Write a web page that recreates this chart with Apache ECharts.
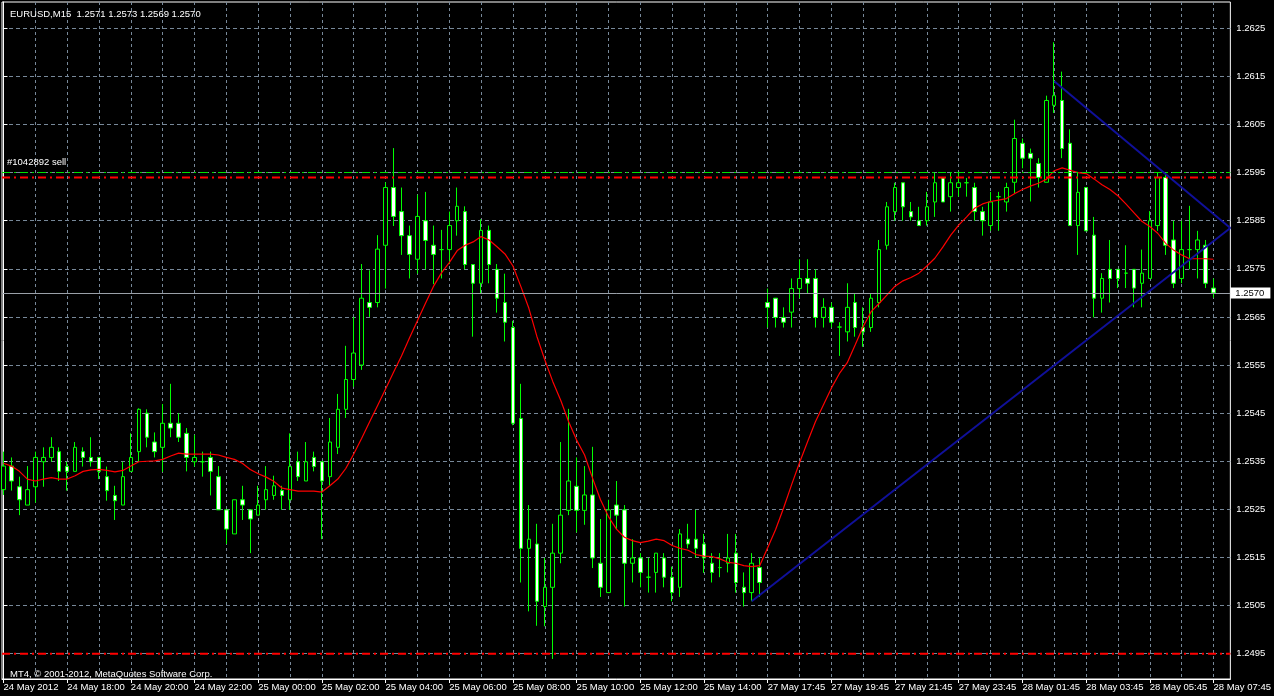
<!DOCTYPE html>
<html><head><meta charset="utf-8">
<script src="https://cdn.jsdelivr.net/npm/echarts@6/dist/echarts.min.js"></script>
<style>html,body{margin:0;padding:0;background:#000;}#chart{width:1274px;height:696px;}</style>
</head><body><div id="chart"></div>
<script>
const symbol = 'EURUSD', timeframe = 'M15';
const copyright = 'MT4, \u00a9 2001-2012, MetaQuotes Software Corp.';
const orderText = '#1042892 sell';
const orderLevel = 1.2595;
const redLevels = [1.2594, 1.2495];

const tickLabels = ["24 May 2012","24 May 18:00","24 May 20:00","24 May 22:00","25 May 00:00","25 May 02:00","25 May 04:00","25 May 06:00","25 May 08:00","25 May 10:00","25 May 12:00","25 May 14:00","27 May 17:45","27 May 19:45","27 May 21:45","27 May 23:45","28 May 01:45","28 May 03:45","28 May 05:45","28 May 07:45"];
const priceTicks = [1.2495,1.2505,1.2515,1.2525,1.2535,1.2545,1.2555,1.2565,1.2575,1.2585,1.2595,1.2605,1.2615,1.2625];

const opens = [1.25291,1.25340,1.25297,1.25259,1.25297,1.25349,1.25358,1.25370,1.25339,1.25329,
1.25370,1.25358,1.25358,1.25318,1.25279,1.25259,1.25329,1.25370,1.25450,1.25390,
1.25379,1.25429,1.25429,1.25408,1.25349,1.25349,1.25358,1.25318,1.25249,1.25199,
1.25270,1.25249,1.25238,1.25270,1.25279,1.25289,1.25270,1.25349,1.25309,1.25358,
1.25349,1.25318,1.25379,1.25458,1.25520,1.25550,1.25680,1.25680,1.25799,1.25919,
1.25869,1.25819,1.25770,1.25850,1.25799,1.25790,1.25790,1.25850,1.25869,1.25759,
1.25720,1.25830,1.25749,1.25680,1.25628,1.25439,1.25169,1.25178,1.25048,1.25088,
1.25159,1.25248,1.25298,1.25248,1.25280,1.25138,1.25077,1.25259,1.25249,1.25138,
1.25149,1.25109,1.25119,1.25149,1.25109,1.25088,1.25188,1.25188,1.25178,1.25138,
1.25129,1.25138,1.25159,1.25088,1.25077,1.25129,1.25680,1.25689,1.25649,1.25660,
1.25709,1.25730,1.25730,1.25649,1.25670,1.25629,1.25619,1.25680,1.25628,1.25628,
1.25680,1.25799,1.25869,1.25929,1.25869,1.25850,1.25850,1.25889,1.25939,1.25900,
1.25919,1.25929,1.25919,1.25869,1.25840,1.25900,1.25889,1.25930,1.26011,1.25990,
1.25969,1.25930,1.26090,1.26100,1.26011,1.25840,1.25919,1.25820,1.25689,1.25749,
1.25749,1.25741,1.25749,1.25720,1.25730,1.25840,1.25940,1.25810,1.25730,1.25790,
1.25790,1.25799,1.25710];
const highs = [1.25370,1.25358,1.25318,1.25340,1.25370,1.25379,1.25400,1.25379,1.25349,1.25390,
1.25379,1.25400,1.25358,1.25339,1.25299,1.25349,1.25408,1.25460,1.25458,1.25410,
1.25469,1.25511,1.25450,1.25419,1.25405,1.25370,1.25370,1.25340,1.25249,1.25270,
1.25299,1.25249,1.25299,1.25340,1.25320,1.25299,1.25408,1.25370,1.25390,1.25370,
1.25349,1.25440,1.25490,1.25590,1.25650,1.25760,1.25747,1.25820,1.25930,1.26001,
1.25919,1.25840,1.25904,1.25910,1.25840,1.25831,1.25869,1.25919,1.25880,1.25759,
1.25853,1.25840,1.25760,1.25740,1.25642,1.25511,1.25259,1.25220,1.25149,1.25220,
1.25390,1.25459,1.25358,1.25340,1.25380,1.25230,1.25270,1.25309,1.25259,1.25188,
1.25159,1.25149,1.25159,1.25159,1.25131,1.25209,1.25220,1.25249,1.25199,1.25159,
1.25159,1.25199,1.25199,1.25119,1.25159,1.25149,1.25709,1.25689,1.25670,1.25730,
1.25770,1.25770,1.25749,1.25689,1.25680,1.25639,1.25720,1.25699,1.25670,1.25699,
1.25810,1.25889,1.25929,1.25929,1.25889,1.25879,1.25910,1.25950,1.25939,1.25950,
1.25950,1.25939,1.25929,1.25879,1.25910,1.25910,1.25929,1.26060,1.26021,1.26000,
1.25980,1.26110,1.26221,1.26160,1.26040,1.25950,1.25919,1.25858,1.25741,1.25810,
1.25749,1.25799,1.25749,1.25790,1.25870,1.25950,1.25950,1.25850,1.25850,1.25881,
1.25829,1.25810,1.25730];
const lows = [1.25280,1.25289,1.25238,1.25259,1.25264,1.25297,1.25349,1.25309,1.25289,1.25329,
1.25339,1.25339,1.25313,1.25268,1.25228,1.25259,1.25329,1.25349,1.25379,1.25358,
1.25328,1.25400,1.25390,1.25329,1.25339,1.25318,1.25279,1.25249,1.25178,1.25199,
1.25228,1.25159,1.25238,1.25249,1.25270,1.25249,1.25249,1.25309,1.25309,1.25329,
1.25188,1.25299,1.25365,1.25440,1.25505,1.25540,1.25650,1.25670,1.25709,1.25839,
1.25779,1.25730,1.25740,1.25749,1.25718,1.25730,1.25760,1.25819,1.25749,1.25609,
1.25699,1.25720,1.25659,1.25599,1.25425,1.25098,1.25038,1.25008,1.25007,1.24939,
1.25138,1.25238,1.25202,1.25218,1.25128,1.25068,1.25077,1.25208,1.25048,1.25098,
1.25088,1.25077,1.25077,1.25088,1.25059,1.25068,1.25169,1.25149,1.25118,1.25098,
1.25109,1.25119,1.25077,1.25048,1.25059,1.25068,1.25628,1.25628,1.25628,1.25628,
1.25689,1.25699,1.25628,1.25628,1.25628,1.25569,1.25599,1.25609,1.25588,1.25619,
1.25670,1.25790,1.25850,1.25850,1.25850,1.25840,1.25840,1.25858,1.25889,1.25869,
1.25900,1.25900,1.25850,1.25819,1.25829,1.25829,1.25869,1.25907,1.25959,1.25890,
1.25919,1.25930,1.26074,1.25980,1.25840,1.25779,1.25829,1.25649,1.25659,1.25680,
1.25710,1.25710,1.25670,1.25670,1.25730,1.25829,1.25779,1.25710,1.25720,1.25749,
1.25730,1.25710,1.25690];
const closes = [1.25340,1.25309,1.25270,1.25291,1.25358,1.25358,1.25379,1.25329,1.25329,1.25379,
1.25358,1.25349,1.25329,1.25289,1.25268,1.25318,1.25358,1.25458,1.25400,1.25370,
1.25429,1.25419,1.25400,1.25358,1.25358,1.25349,1.25329,1.25249,1.25209,1.25270,
1.25259,1.25230,1.25259,1.25291,1.25299,1.25279,1.25339,1.25318,1.25349,1.25339,
1.25309,1.25390,1.25458,1.25520,1.25575,1.25689,1.25670,1.25791,1.25919,1.25859,
1.25819,1.25780,1.25859,1.25809,1.25780,1.25790,1.25840,1.25880,1.25759,1.25720,
1.25830,1.25759,1.25689,1.25639,1.25429,1.25169,1.25188,1.25059,1.25088,1.25159,
1.25238,1.25309,1.25248,1.25280,1.25149,1.25088,1.25249,1.25238,1.25138,1.25149,
1.25119,1.25109,1.25159,1.25109,1.25077,1.25199,1.25178,1.25169,1.25149,1.25119,
1.25129,1.25149,1.25098,1.25077,1.25138,1.25098,1.25670,1.25649,1.25639,1.25709,
1.25730,1.25720,1.25649,1.25670,1.25639,1.25629,1.25670,1.25628,1.25619,1.25689,
1.25790,1.25879,1.25919,1.25879,1.25858,1.25840,1.25879,1.25929,1.25889,1.25929,
1.25929,1.25929,1.25869,1.25850,1.25889,1.25900,1.25919,1.26021,1.25980,1.25980,
1.25940,1.26100,1.26110,1.26000,1.25840,1.25909,1.25829,1.25689,1.25730,1.25730,
1.25730,1.25741,1.25710,1.25741,1.25850,1.25940,1.25799,1.25720,1.25790,1.25790,
1.25810,1.25720,1.25700];
const maValues = [1.25346,1.25340,1.25329,1.25313,1.25309,1.25313,1.25316,1.25313,1.25313,1.25320,
1.25329,1.25332,1.25333,1.25331,1.25328,1.25331,1.25340,1.25349,1.25350,1.25351,
1.25354,1.25361,1.25367,1.25365,1.25365,1.25365,1.25365,1.25363,1.25358,1.25354,
1.25346,1.25333,1.25324,1.25317,1.25308,1.25294,1.25291,1.25288,1.25288,1.25288,
1.25286,1.25299,1.25313,1.25335,1.25365,1.25398,1.25432,1.25466,1.25500,1.25535,
1.25569,1.25606,1.25642,1.25678,1.25713,1.25741,1.25763,1.25788,1.25799,1.25806,
1.25817,1.25810,1.25796,1.25781,1.25756,1.25713,1.25668,1.25610,1.25561,1.25516,
1.25477,1.25432,1.25394,1.25363,1.25315,1.25270,1.25235,1.25209,1.25192,1.25185,
1.25181,1.25184,1.25188,1.25185,1.25175,1.25169,1.25165,1.25156,1.25153,1.25152,
1.25147,1.25140,1.25138,1.25133,1.25131,1.25133,1.25170,1.25208,1.25253,1.25301,
1.25347,1.25390,1.25432,1.25467,1.25502,1.25532,1.25555,1.25592,1.25630,1.25661,
1.25678,1.25696,1.25714,1.25725,1.25732,1.25741,1.25756,1.25772,1.25795,1.25820,
1.25841,1.25858,1.25876,1.25885,1.25890,1.25893,1.25896,1.25906,1.25915,1.25922,
1.25928,1.25936,1.25954,1.25960,1.25955,1.25950,1.25948,1.25937,1.25925,1.25915,
1.25902,1.25885,1.25867,1.25849,1.25838,1.25824,1.25803,1.25789,1.25779,1.25771,
1.25771,1.25771,1.25770];

// trend lines: [bar index, price]
const trendLow = [[94, 1.25059], [154.125, 1.25835]];
const trendHigh = [[132, 1.26140], [154.125, 1.25835]];

const FONT = '"Liberation Sans", Arial, sans-serif';
const FS = 9.5;
const n = opens.length;
const last = n - 1;
const candleData = opens.map((o, i) => [i, o, closes[i], lows[i], highs[i]]);
const maData = maValues.map((v, i) => [i, v]);
const bid = closes[last];
const labelBars = tickLabels.map((_, i) => i * 8);
const gridBars = [];
for (let k = 4; k <= last; k += 4) gridBars.push(k);
const xMin = -0.1875, xMax = 154.125;
const yMin = 1.248974, yMax = 1.263047;
const fmt = v => v.toFixed(4);
const dashDot = [8, 4, 2, 4];

const levelSeries = redLevels.map(lv => ({
  type: 'line', data: [[xMin, lv], [xMax, lv]], symbol: 'none', z: 4, silent: true,
  lineStyle: {color: '#ff0000', type: dashDot, width: 2}
}));

const chart = echarts.init(document.getElementById('chart'), null, {renderer: 'canvas'});
chart.setOption({
  backgroundColor: '#000',
  animation: false,
  title: [
    {text: symbol + ',' + timeframe + '  ' + fmt(opens[last]) + ' ' + fmt(highs[last]) + ' ' + fmt(lows[last]) + ' ' + fmt(closes[last]),
     left: 5, top: 4, textStyle: {color: '#fff', fontSize: FS, fontWeight: 'normal', fontFamily: FONT}},
    {text: copyright, left: 5, top: 664, textStyle: {color: '#fff', fontSize: FS, fontWeight: 'normal', fontFamily: FONT}}
  ],
  grid: {left: 2, right: 37.5, top: 2, bottom: 17, show: true, borderColor: '#fff', borderWidth: 1, backgroundColor: '#000'},
  xAxis: [
    {type: 'value', min: xMin, max: xMax, position: 'bottom',
     axisLine: {show: true, lineStyle: {color: '#fff'}},
     axisTick: {show: true, length: 4, customValues: labelBars, lineStyle: {color: '#fff'}},
     axisLabel: {customValues: labelBars, formatter: v => tickLabels[Math.round(v / 8)], color: '#fff', fontSize: FS, fontFamily: FONT, align: 'left', margin: 3},
     splitLine: {show: false}},
    {type: 'value', min: xMin, max: xMax, position: 'top',
     axisLine: {show: false}, axisTick: {show: false, customValues: gridBars}, axisLabel: {show: false},
     splitLine: {show: true, lineStyle: {color: '#778899', type: [3, 3], width: 1}}}
  ],
  yAxis: {type: 'value', min: yMin, max: yMax, position: 'right', scale: true,
    axisLine: {show: true, lineStyle: {color: '#fff'}},
    axisTick: {show: true, length: 4, customValues: priceTicks, lineStyle: {color: '#fff'}},
    axisLabel: {customValues: priceTicks, formatter: v => fmt(v), color: '#fff', fontSize: FS, fontFamily: FONT, margin: 6},
    splitLine: {show: true, lineStyle: {color: '#778899', type: [4, 3], width: 1}}},
  series: [
    {type: 'candlestick', data: candleData, barWidth: 4, z: 3,
     itemStyle: {color: '#000', color0: '#fff', borderColor: '#00ff00', borderColor0: '#00ff00', borderColorDoji: '#00ff00', borderWidth: 1}},
    ...levelSeries,
    {type: 'line', data: maData, symbol: 'none', z: 4, lineStyle: {color: '#ff0000', width: 1.2},
     markLine: {symbol: 'none', silent: true, animation: false, precision: 6,
       data: [
         {yAxis: orderLevel, lineStyle: {color: '#00e000', type: dashDot, width: 1},
          label: {show: true, position: 'insideStartTop', formatter: orderText, color: '#fff', fontSize: FS, fontFamily: FONT}},
         {yAxis: bid, lineStyle: {color: '#9aa0a8', type: 'solid', width: 1},
          label: {show: true, position: 'end', distance: 0, formatter: fmt(bid), backgroundColor: '#fff', color: '#000', padding: [1, 6, 0, 5], fontSize: FS, fontFamily: FONT}}
       ]}},
    {type: 'line', data: trendLow, symbol: 'none', z: 5, lineStyle: {color: '#10109a', width: 2}},
    {type: 'line', data: trendHigh, symbol: 'none', z: 5, lineStyle: {color: '#10109a', width: 2}}
  ]
});
</script>
</body></html>
